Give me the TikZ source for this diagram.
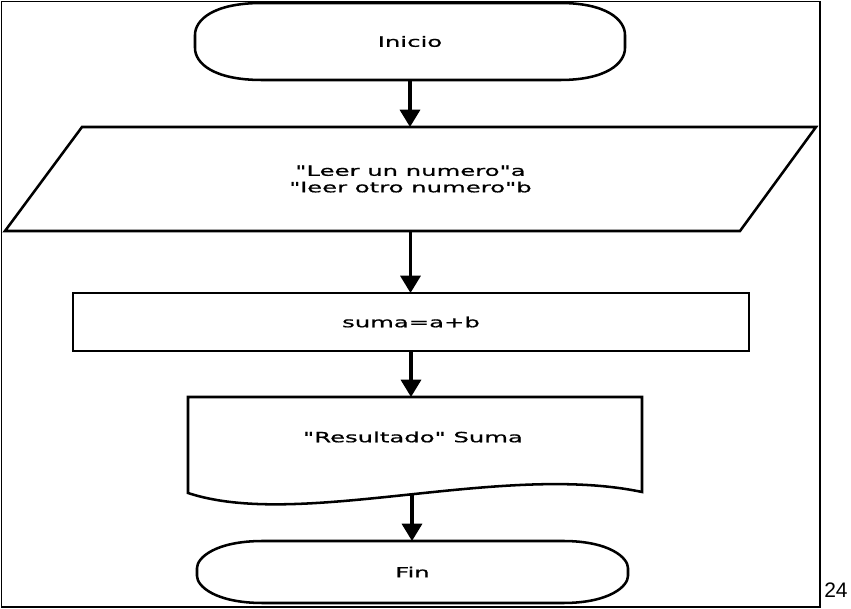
\documentclass[tikz,border=0pt]{standalone}
\usepackage{fontspec}
\newfontfamily\diagfont[FakeStretch=1.72,FakeBold=0.8]{DejaVu Sans}
\newfontfamily\pagefont{Liberation Sans}
\usetikzlibrary{arrows.meta}
\tikzset{
  shapeline/.style={line width=1.9pt, line join=miter},
  flowtext/.style={font=\diagfont\fontsize{10.6}{12.4}\selectfont, align=center, inner sep=0pt, outer sep=0pt},
  flowarrow/.style={line width=2.6pt, -{Triangle[width=15pt,length=13pt]}},
  framebox/.style={line width=1.2pt}
}
\begin{document}
\begin{tikzpicture}[x=0.75pt,y=-0.75pt]
\useasboundingbox (0,0) rectangle (851,609);
% outer frame
\draw[framebox] (1.5,1.5) rectangle (820,607);
% Inicio terminal
\draw[shapeline] (262,3) -- (560,3) .. controls (607,3) and (625,20) .. (625,35) -- (625,48)
  .. controls (625,63) and (607,80) .. (560,80) -- (262,80)
  .. controls (213,80) and (195,63) .. (195,48) -- (195,35)
  .. controls (195,20) and (213,3) .. (262,3) -- cycle;
\node[flowtext, minimum width=322.5pt, minimum height=57.75pt] (inicio) at (410,41.5) {Inicio};
% input parallelogram
\draw[shapeline] (82,127) -- (816,127) -- (740,231) -- (5,231) -- cycle;
\node[flowtext, minimum width=608.25pt, minimum height=78pt] (entrada) at (410.5,179)
  {"Leer un numero"a\\"leer otro numero"b};
% process rectangle
\draw[shapeline] (73,293) rectangle (749,351);
\node[flowtext, minimum width=507pt, minimum height=43.5pt] (proceso) at (411,322) {suma=a+b};
% output document
\draw[shapeline] (188,397) -- (642,397) -- (642,492)
  .. controls (500,462) and (300,530) .. (188,493) -- cycle;
\node[flowtext] (salida) at (413,437) {"Resultado" Suma};
\coordinate (salidaN) at (412,397);
\coordinate (salidaS) at (412,495);
% Fin terminal
\draw[shapeline] (263,541) -- (563,541) .. controls (610,541) and (628,558) .. (628,568) -- (628,576)
  .. controls (628,586) and (610,603) .. (563,603) -- (263,603)
  .. controls (215,603) and (197,586) .. (197,576) -- (197,568)
  .. controls (197,558) and (215,541) .. (263,541) -- cycle;
\node[flowtext, minimum width=323.25pt, minimum height=46.5pt] (fin) at (412.5,572) {Fin};
% connectors
\draw[flowarrow] (inicio.south) -- (inicio.south |- entrada.north);
\draw[flowarrow] (entrada.south) -- (entrada.south |- proceso.north);
\draw[flowarrow] (proceso.south) -- (proceso.south |- salidaN);
\draw[flowarrow] (salidaS) -- (salidaS |- fin.north);
% page number
\node[anchor=base west, font=\pagefont\fontsize{15.75}{18}\selectfont, inner sep=0pt] (pagenum) at (824,598) {24};
\end{tikzpicture}
\end{document}
